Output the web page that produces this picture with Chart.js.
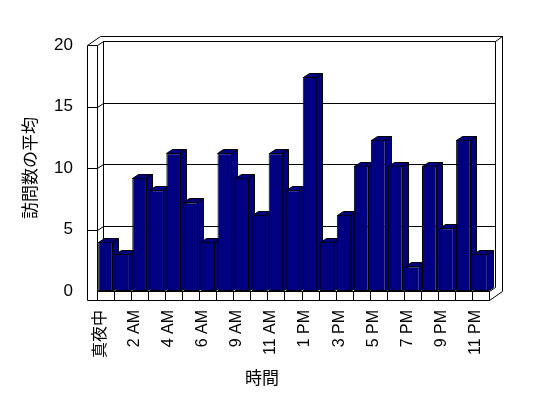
<!DOCTYPE html>
<html><head><meta charset="utf-8">
<script src="https://cdn.jsdelivr.net/npm/chart.js@4/dist/chart.umd.min.js"></script>
<style>html,body{margin:0;padding:0;background:#fff}canvas{display:block}</style>
</head><body>
<canvas id="c" width="548" height="398"></canvas>
<script>
const categories = ['真夜中','1 AM','2 AM','3 AM','4 AM','5 AM','6 AM','7 AM','9 AM','10 AM','11 AM','正午','1 PM','2 PM','3 PM','4 PM','5 PM','6 PM','7 PM','8 PM','9 PM','10 PM','11 PM'];
const visits = [4.0, 3.0, 9.2, 8.2, 11.2, 7.2, 4.0, 11.2, 9.2, 6.2, 11.2, 8.2, 17.4, 4.0, 6.2, 10.2, 12.3, 10.2, 2.0, 10.2, 5.1, 12.3, 3.0];
const yTicks = [0, 5, 10, 15, 20];
const yTitle = '訪問数の平均';
const xTitle = '時間';

const FONT = "'Liberation Sans', 'Noto Sans CJK JP', sans-serif";
const NAVY = '#000080';
const DX = 6, DY = -4, WX = 7, WY = -5, WALL = 10.5, FLOOR = 9;

const box3d = {
  id: 'box3d',
  beforeDatasetsDraw(chart) {
    const ctx = chart.ctx;
    const {left: L, right: R, top: T, bottom: B} = chart.chartArea;
    const y = chart.scales.y, x = chart.scales.x;
    const p = v => Math.round(v) + 0.5;
    const seg = (x1, y1, x2, y2) => { ctx.beginPath(); ctx.moveTo(p(x1), p(y1)); ctx.lineTo(p(x2), p(y2)); ctx.stroke(); };
    ctx.save();
    ctx.strokeStyle = '#000'; ctx.lineWidth = 1;
    const OL = L - WALL;
    // left wall front face
    seg(OL, T, OL, B + FLOOR);
    seg(L, T, L, B + FLOOR);
    seg(OL, T, L, T);
    // top edges
    seg(OL, T, OL + DX + WX, T + DY + WY);
    seg(OL + DX + WX, T + DY + WY, R + DX + WX, T + DY + WY);
    seg(L, T, L + DX, T + DY);
    seg(L + DX, T + DY, R + DX, T + DY);
    seg(R + DX, T + DY, R + DX + WX, T + DY + WY);
    // back wall edges
    seg(L + DX, T + DY, L + DX, B + DY);
    seg(R + DX, T + DY, R + DX, B + DY);
    seg(R + DX + WX, T + DY + WY, R + DX + WX, B + FLOOR + DY + WY);
    // floor
    seg(L, B, R, B);
    seg(OL, B + FLOOR, R, B + FLOOR);
    seg(R, B, R, B + FLOOR);
    seg(R, B + FLOOR, R + DX + WX, B + FLOOR + DY + WY);
    seg(R, B, R + DX, B + DY);
    const n = categories.length;
    for (let i = 1; i < n; i++) {
      const xb = (x.getPixelForValue(i - 1) + x.getPixelForValue(i)) / 2;
      seg(xb, B, xb, B + FLOOR);
    }
    // gridlines
    yTicks.forEach(v => {
      if (v === 0 || v === 20) return;
      const yv = y.getPixelForValue(v);
      seg(OL, yv, L, yv);
      seg(L, yv, L + DX, yv + DY);
      seg(L + DX, yv + DY, R + DX, yv + DY);
    });
    // bar sides and tops
    const meta = chart.getDatasetMeta(0);
    ctx.fillStyle = NAVY;
    meta.data.forEach(el => {
      const {x: cx, y: ty, base, width} = el.getProps(['x', 'y', 'base', 'width'], true);
      const l = Math.round(cx - width / 2), r = Math.round(cx + width / 2) - 1;
      const t = Math.round(ty), b = Math.round(base);
      ctx.beginPath();
      ctx.moveTo(r + 0.5, t + 0.5);
      ctx.lineTo(r + DX + 0.5, t + DY + 0.5);
      ctx.lineTo(r + DX + 0.5, b + DY + 0.5);
      ctx.lineTo(r + 0.5, b + 0.5);
      ctx.closePath(); ctx.fill(); ctx.stroke();
      ctx.beginPath();
      ctx.moveTo(l + 0.5, t + 0.5);
      ctx.lineTo(l + DX + 0.5, t + DY + 0.5);
      ctx.lineTo(r + DX + 0.5, t + DY + 0.5);
      ctx.lineTo(r + 0.5, t + 0.5);
      ctx.closePath(); ctx.fill(); ctx.stroke();
    });
    ctx.restore();
  },
  afterDraw(chart) {
    const ctx = chart.ctx;
    ctx.save();
    ctx.font = "17px 'Noto Sans CJK JP', sans-serif";
    ctx.fillStyle = '#000';
    ctx.textAlign = 'center';
    ctx.textBaseline = 'middle';
    ctx.fillText(xTitle, 262, 378);
    ctx.restore();
  }
};

new Chart(document.getElementById('c'), {
  type: 'bar',
  data: {
    labels: categories,
    datasets: [{
      data: visits,
      backgroundColor: NAVY,
      borderColor: '#000',
      borderWidth: 1,
      borderSkipped: false,
      barPercentage: 0.86,
      categoryPercentage: 1.0
    }]
  },
  options: {
    responsive: false,
    animation: false,
    events: [],
    layout: {padding: {top: 45, right: 59, left: 0, bottom: 0}},
    plugins: {legend: {display: false}, tooltip: {enabled: false}, title: {display: false}},
    scales: {
      x: {
        grid: {display: false, drawTicks: false},
        border: {display: false},
        ticks: {
          autoSkip: false,
          minRotation: 90,
          maxRotation: 90,
          padding: 19,
          labelOffset: -5,
          color: '#000',
          font: {family: FONT, size: 16},
          callback: (v, i) => (i % 2 === 0 ? categories[i] : '')
        },
        afterFit: s => { s.height = 107; }
      },
      y: {
        min: 0, max: 20,
        grid: {display: false, drawTicks: false},
        border: {display: false},
        afterBuildTicks: s => { s.ticks = yTicks.map(v => ({value: v})); },
        ticks: {color: '#000', padding: 24, font: {family: FONT, size: 17}},
        title: {display: true, text: yTitle, color: '#000', font: {family: FONT, size: 17}, padding: {top: 21, bottom: 0}},
        afterFit: s => { s.width = 97; }
      }
    }
  },
  plugins: [box3d]
});
</script>
</body></html>
